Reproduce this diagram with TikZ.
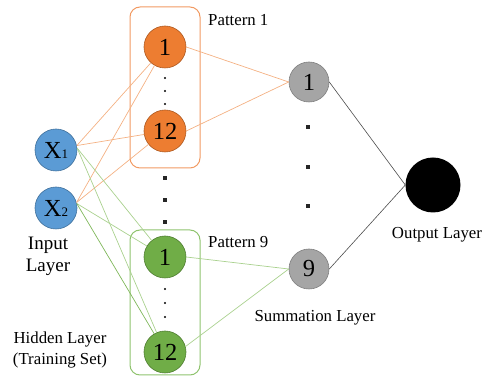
\documentclass[tikz,border=0pt]{standalone}
\usepackage{fontspec}
\setmainfont{Liberation Serif}
\definecolor{bluef}{HTML}{5B9BD5}
\definecolor{blued}{HTML}{41719C}
\definecolor{orangef}{HTML}{ED7D31}
\definecolor{oranged}{HTML}{AE5A21}
\definecolor{greenf}{HTML}{70AD47}
\definecolor{greend}{HTML}{507E32}
\definecolor{grayf}{HTML}{A5A5A5}
\definecolor{grayd}{HTML}{7F7F7F}
\definecolor{obox}{HTML}{F19A62}
\definecolor{gbox}{HTML}{8FC36E}
\definecolor{oline}{HTML}{F4B183}
\definecolor{gline}{HTML}{A9D18E}
\definecolor{gline2}{HTML}{7FB75A}
\begin{document}
\begin{tikzpicture}[x=1pt,y=-1pt,
  neuron/.style={circle,minimum size=42pt,inner sep=0pt,line width=0.6pt,font=\fontsize{24.5}{24.5}\selectfont},
  inode/.style={neuron,fill=bluef,draw=blued},
  onode/.style={neuron,fill=orangef,draw=oranged},
  gnode/.style={neuron,fill=greenf,draw=greend},
  snode/.style={neuron,minimum size=40pt,fill=grayf,draw=grayd},
  outnode/.style={circle,minimum size=55pt,inner sep=0pt,fill=black},
  obx/.style={draw=obox,line width=1pt,rounded corners=10pt},
  gbx/.style={draw=gbox,line width=1pt,rounded corners=10pt},
  oedge/.style={draw=oline,line width=0.7pt},
  gedge/.style={draw=gline,line width=0.7pt},
  gedgeb/.style={draw=gline2,line width=0.7pt},
  kedge/.style={draw=black!70,line width=0.6pt},
  lbl/.style={font=\fontsize{16.8}{21}\selectfont,align=center,inner sep=0pt},
  sdot/.style={fill=black,inner sep=0pt,minimum size=2.2pt,circle},
  sq/.style={fill=black!85,inner sep=0pt,minimum size=4.5pt,rectangle}
]
\useasboundingbox (0,0) rectangle (483,379);
% boxes
\draw[obx] (130,7) rectangle (200,168);
\draw[gbx] (130,230) rectangle (200,375);
% nodes
\node[inode] (X1) at (56,150) {X{\fontsize{13}{13}\selectfont 1}};
\node[inode] (X2) at (56,208) {X{\fontsize{13}{13}\selectfont 2}};
\node[onode] (O1) at (165,47) {1};
\node[onode] (O12) at (165,131) {12};
\node[gnode] (G1) at (165,257) {1};
\node[gnode] (G12) at (165,352) {12};
\node[snode] (S1) at (309,82) {1};
\node[snode] (S9) at (309,269) {9};
\node[outnode] (Out) at (433,185) {};
% edges input -> hidden
\draw[oedge] (X1.12) -- (O1);
\draw[oedge] (X1.12) -- (O12);
\draw[oedge] (X2.15) -- (O1);
\draw[oedge] (X2.15) -- (O12);
\draw[gedge] (X1.5) -- (G1);
\draw[gedge] (X1.5) -- (G12);
\draw[gedge] (X2.12) -- (G1);
\draw[gedgeb] (X2.12) -- (G12);
% hidden -> summation
\draw[oedge] (O1.east) -- (S1.west);
\draw[oedge] (O12.east) -- (S1.west);
\draw[gedge] (G1.east) -- (S9.west);
\draw[gedge] (G12.15) -- (S9.west);
% summation -> output
\draw[kedge] (S1.east) -- (Out.west);
\draw[kedge] (S9.east) -- (Out.west);
% dots
\node[sdot] (d1) at (165,78) {};
\node[sdot] (d2) at (165,91) {};
\node[sdot] (d3) at (165,104) {};
\node[sdot] (d4) at (165,289) {};
\node[sdot] (d5) at (165,303) {};
\node[sdot] (d6) at (165,317) {};
\node[sq] (q1) at (165,178) {};
\node[sq] (q2) at (165,200) {};
\node[sq] (q3) at (165,222) {};
\node[sq] (q4) at (308,127) {};
\node[sq] (q5) at (308,167) {};
\node[sq] (q6) at (308,206) {};
% labels
\node[lbl,anchor=west] (p1) at (208,20) {Pattern 1};
\node[lbl,anchor=west] (p9) at (208,242) {Pattern 9};
\node[lbl,font=\fontsize{19}{22}\selectfont] (inl) at (48,256) {Input\\Layer};
\node[lbl] (hid) at (60,350) {Hidden Layer\\(Training Set)};
\node[lbl] (sum) at (315,318) {Summation Layer};
\node[lbl] (outl) at (437,235) {Output Layer};
\end{tikzpicture}
\end{document}
